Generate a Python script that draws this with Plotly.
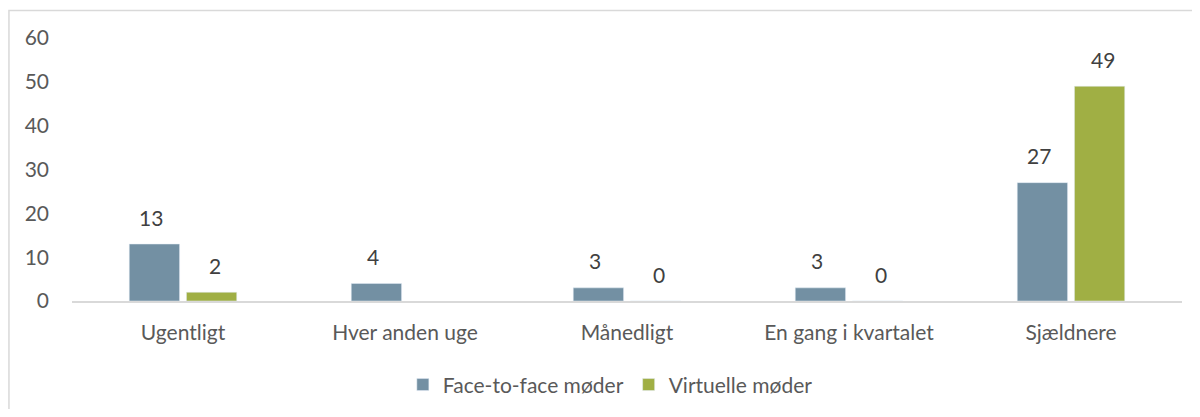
import plotly.graph_objects as go

categories = ["Ugentligt", "Hver anden uge", "Månedligt", "En gang i kvartalet", "Sjældnere"]
face_to_face = [13, 4, 3, 3, 27]
virtuelle = [2, None, 0, 0, 49]

BLUE = "#7390A3"
GREEN = "#A0AF44"
TXT = "#595959"
FONT = "Lato"
FS = 21

fig = go.Figure()
fig.add_trace(go.Bar(x=categories, y=face_to_face, name="Face-to-face møder",
                     marker_color=BLUE))
fig.add_trace(go.Bar(x=categories, y=virtuelle, name="Virtuelle møder",
                     marker_color=GREEN))

# datalabels over søjlerne
annots = []
for series, shift in ((face_to_face, -32), (virtuelle, 32)):
    for cat, val in zip(categories, series):
        if val is None:
            continue
        annots.append(dict(x=cat, y=val, text=str(val), showarrow=False,
                           xshift=shift, yshift=27, yanchor="middle",
                           font=dict(family=FONT, size=FS, color="#404040")))

# siden har 8px body-margin, derfor 1184x401
fig.update_layout(
    width=1184, height=401,
    margin=dict(l=64, r=10, t=30, b=108, autoexpand=False),
    paper_bgcolor="white", plot_bgcolor="white",
    barmode="group", bargap=0.485, bargroupgap=0.12,
    font=dict(family=FONT, size=FS, color=TXT),
    showlegend=True,
    legend=dict(orientation="h", x=0.485, xanchor="center", y=-0.319, yanchor="middle",
                font=dict(family=FONT, size=FS, color=TXT)),
    annotations=annots,
    shapes=[dict(type="rect", xref="paper", yref="paper",
                 x0=-0.0568, x1=1.05, y0=-0.6, y1=1.1046,
                 line=dict(color="#D9D9D9", width=1.5), layer="below")],
)
fig.update_xaxes(showline=True, linecolor="#D9D9D9", linewidth=1.5,
                 showgrid=False, ticks="", ticklabelstandoff=12, automargin=False,
                 tickfont=dict(size=FS, color=TXT))
fig.update_yaxes(range=[0, 60], dtick=10, showgrid=False, zeroline=False,
                 showline=False, ticks="", ticklabelstandoff=22, automargin=False,
                 tickfont=dict(size=FS, color=TXT))

fig.write_html("out.html")
